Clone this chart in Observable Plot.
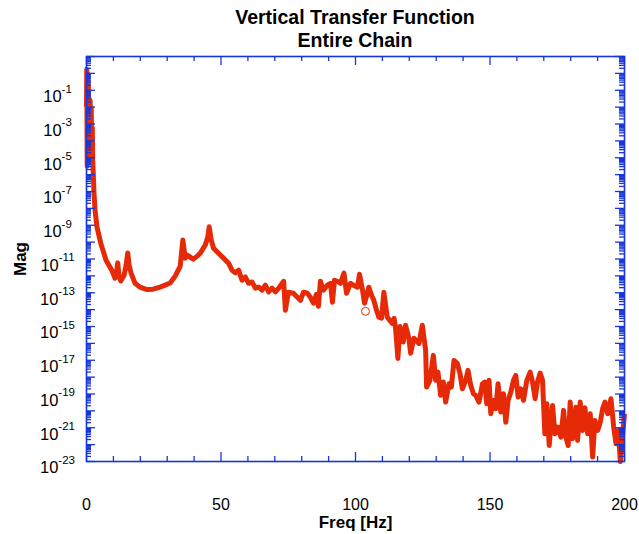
<!DOCTYPE html>
<html><head><meta charset="utf-8">
<script src="https://cdn.jsdelivr.net/npm/d3@7"></script>
<script src="https://cdn.jsdelivr.net/npm/@observablehq/plot@0.6"></script>
<style>
body{margin:0;background:#fff;font-family:"Liberation Sans",Arial,Helvetica,sans-serif;}
#title{height:54px;box-sizing:border-box;padding-top:6px;margin-left:86px;width:538px;text-align:center;font-weight:bold;font-size:19.5px;line-height:23px;color:#000;}
#chart svg{display:block;}
</style></head><body>
<div id="title">Vertical Transfer Function<br>Entire Chain</div>
<div id="chart"></div>
<script>
const freqHz = [0.00,0.10,0.25,0.40,0.55,0.70,0.85,1.00,1.15,1.35,1.55,1.75,1.95,2.15,2.31,
2.61,2.79,3.17,3.91,5.29,7.26,9.39,10.61,11.17,11.62,12.10,12.74,13.97,14.71,15.34,15.83,16.57,18.06,19.93,22.42,24.77,27.37,29.22,31.09,32.96,34.82,
35.82,36.68,37.43,38.54,39.67,41.16,42.27,44.13,45.07,45.62,46.37,47.23,49.09,50.95,52.81,54.08,55.31,56.54,57.80,59.03,60.26,61.53,62.76,63.99,65.25,66.48,67.71,68.98,70.21,71.44,
73.30,73.93,75.05,76.91,78.40,79.52,80.63,82.12,83.24,84.36,85.47,86.22,86.96,88.08,89.57,90.69,91.43,92.18,93.30,94.41,95.72,96.65,98.14,99.26,100.75,101.49,102.61,103.35,104.10,104.95,105.96,106.82,107.82,108.68,109.68,110.54,111.81,113.67,114.34,114.90,115.75,116.57,117.77,118.62,119.85,120.49,121.72,123.58,124.84,126.07,
126.44,127.67,128.94,129.79,130.65,131.66,132.66,133.52,134.75,135.64,136.61,137.88,138.85,139.74,140.97,141.83,142.83,143.84,144.69,145.92,147.19,148.04,148.79,149.65,150.28,151.28,152.14,153.00,154.00,155.01,155.87,156.72,157.73,158.73,159.59,160.45,161.45,162.46,163.69,164.92,165.81,166.78,167.67,168.64,169.53,
170.39,171.14,172.00,173.26,174.12,175.12,176.35,177.36,178.21,179.07,179.81,180.71,181.94,182.57,183.54,184.43,185.29,186.30,187.26,188.16,189.01,190.02,190.99,191.88,192.74,193.74,194.97,195.98,196.84,197.69,198.44,199.33,200.00];
const log10Mag = [-2.0,0.25,-5.5,0.0,-5.3,-0.5,-5.0,-1.5,-4.6,-1.6,-4.3,-2.0,-4.8,-3.2,-5.14,
-6.32,-7.10,-8.10,-9.11,-10.06,-11.07,-11.66,-12.14,-11.78,-11.23,-12.02,-12.30,-11.96,-11.37,-10.64,-11.37,-11.84,-12.44,-12.67,-12.81,-12.79,-12.67,-12.55,-12.42,-12.02,-11.43,
-9.88,-10.95,-10.77,-10.89,-11.01,-10.83,-10.66,-10.18,-9.71,-9.09,-9.88,-10.36,-10.66,-10.95,-11.25,-11.66,-11.82,-11.66,-12.26,-12.06,-12.44,-12.36,-12.73,-12.66,-12.85,-12.55,-12.95,-12.73,-12.95,-12.73,
-12.32,-14.04,-12.97,-13.03,-13.27,-13.45,-12.97,-13.03,-13.27,-13.62,-13.09,-13.80,-12.32,-12.85,-12.55,-12.44,-13.56,-12.26,-12.32,-12.44,-11.84,-13.03,-12.44,-12.55,-12.67,-11.90,-12.85,-13.62,-13.21,-12.67,-13.15,-13.45,-14.04,-14.45,-14.51,-12.97,-14.45,-14.81,-14.51,-15.11,-16.89,-15.00,-15.92,-14.93,-15.70,-16.59,-15.70,-16.00,-14.93,-16.41,
-18.59,-18.19,-16.71,-18.19,-17.70,-19.08,-18.29,-19.48,-18.39,-18.59,-17.01,-17.20,-17.80,-18.69,-18.19,-17.60,-18.49,-18.98,-19.08,-19.48,-18.39,-18.29,-19.58,-18.19,-20.17,-19.38,-19.87,-18.39,-20.07,-18.98,-20.67,-19.38,-18.89,-18.19,-17.90,-19.18,-18.69,-19.38,-18.19,-17.70,-18.29,-19.28,-18.29,-17.76,-18.19,
-21.36,-19.58,-22.05,-19.68,-21.36,-20.96,-21.56,-19.97,-21.56,-22.05,-19.48,-21.65,-19.78,-21.75,-19.48,-21.16,-19.81,-21.36,-20.17,-22.74,-20.57,-21.16,-20.67,-19.87,-19.48,-20.17,-19.28,-20.96,-21.95,-21.16,-23.0,-21.36,-20.17];
const markerFreq = [103.72];
const markerLog10Mag = [-14.10];
const xLabelTicks = [0, 50, 100, 150, 200];
const xMinorStep = 10;
const yLabelExponents = [-23,-21,-19,-17,-15,-13,-11,-9,-7,-5,-3,-1];
const yDecades = [-23,-22,-21,-20,-19,-18,-17,-16,-15,-14,-13,-12,-11,-10,-9,-8,-7,-6,-5,-4,-3,-2,-1,0,1];
const xTitle = "Freq [Hz]";
const yTitle = "Mag";

const RED = "#e62a08", BLUE = "#1636dc";
const W = 639, H = 480, mT = 2, mB = 73, mL = 86, mR = 15;
const innerW = W - mL - mR, innerH = H - mT - mB;

const series = freqHz.map((f, i) => ({f, m: Math.pow(10, log10Mag[i])}));
const marker = markerFreq.map((f, i) => ({f, m: Math.pow(10, markerLog10Mag[i])}));
const xMinor = d3.range(0, 201, xMinorStep).filter(v => !xLabelTicks.includes(v));
const yMajor = yDecades.map(e => Math.pow(10, e));
const yMinor = [];
yDecades.slice(0, -1).forEach(e => { for (let k = 2; k <= 9; k++) yMinor.push(k * Math.pow(10, e)); });

const tk = {stroke: BLUE, strokeWidth: 1.3};
const svg = Plot.plot({
  width: W, height: H, marginTop: mT, marginBottom: mB, marginLeft: mL, marginRight: mR,
  style: {fontFamily: "'Liberation Sans', Arial, Helvetica, sans-serif", color: "#000", background: "#fff", overflow: "visible"},
  x: {domain: [0, 200], axis: null},
  y: {type: "log", domain: [1e-23, 1e1], axis: null},
  marks: [
    Plot.line(series, {x: "f", y: "m", stroke: RED, strokeWidth: 5, strokeLinejoin: "round", strokeLinecap: "butt"}),
    Plot.dot(marker, {x: "f", y: "m", r: 4, stroke: RED, strokeWidth: 1, fill: "none"}),
    Plot.ruleX(xLabelTicks, {x: d => d, ...tk, insetTop: innerH - 9}),
    Plot.ruleX(xLabelTicks, {x: d => d, ...tk, insetBottom: innerH - 9}),
    Plot.ruleX(xMinor, {x: d => d, ...tk, insetTop: innerH - 5}),
    Plot.ruleX(xMinor, {x: d => d, ...tk, insetBottom: innerH - 5}),
    Plot.ruleY(yMajor, {y: d => d, ...tk, insetRight: innerW - 9}),
    Plot.ruleY(yMajor, {y: d => d, ...tk, insetLeft: innerW - 9}),
    Plot.ruleY(yMinor, {y: d => d, ...tk, insetRight: innerW - 5}),
    Plot.ruleY(yMinor, {y: d => d, ...tk, insetLeft: innerW - 5}),
    Plot.frame({stroke: BLUE, strokeWidth: 1.6}),
    Plot.text(xLabelTicks, {x: d => d, frameAnchor: "bottom", lineAnchor: "middle", dy: 43, text: d => String(d), fontSize: 16, fill: "#000"}),
    Plot.text(yLabelExponents, {y: d => Math.pow(10, d), frameAnchor: "left", dx: -29, textAnchor: "middle", lineAnchor: "middle", text: d => String(d), fontSize: 16.5, fill: "#000"}),
    Plot.text([xTitle], {frameAnchor: "bottom", lineAnchor: "middle", dy: 61, text: d => d, fontSize: 17, fontWeight: "bold", fill: "#000"}),
    Plot.text([yTitle], {frameAnchor: "left", textAnchor: "middle", lineAnchor: "middle", dx: -66, rotate: -90, text: d => d, fontSize: 17, fontWeight: "bold", fill: "#000"})
  ]
});
const ns = "http://www.w3.org/2000/svg";
svg.querySelectorAll("text").forEach(t => {
  const e = t.textContent;
  if (!/^-\d+$/.test(e)) return;
  t.textContent = "";
  const a = document.createElementNS(ns, "tspan");
  a.setAttribute("dy", "6.5");
  a.textContent = "10";
  const b = document.createElementNS(ns, "tspan");
  b.setAttribute("dy", "-9.5");
  b.setAttribute("font-size", "11.5");
  b.textContent = e;
  t.append(a, b);
});
document.getElementById("chart").append(svg);
</script></body></html>
